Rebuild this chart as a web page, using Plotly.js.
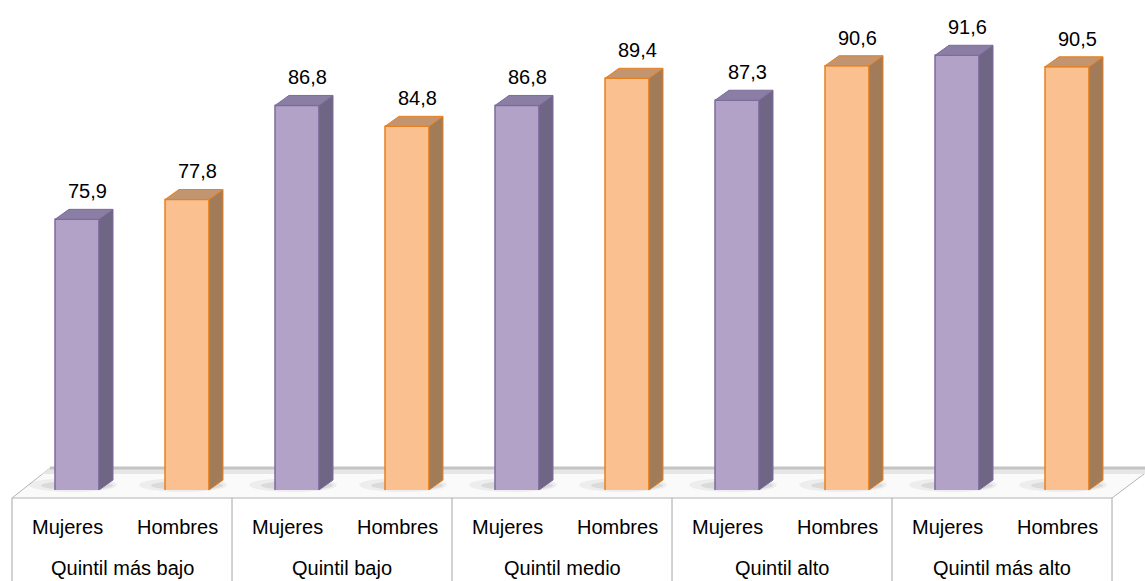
<!DOCTYPE html>
<html>
<head>
<meta charset="utf-8">
<script src="https://cdn.plot.ly/plotly-3.0.1.min.js"></script>
<style>html,body{margin:0;padding:0;background:#fff;}#chart{width:1145px;height:581px;}</style>
</head>
<body>
<div id="chart"></div>
<script>
// ---- data ----
var groups = ["Quintil más bajo", "Quintil bajo", "Quintil medio", "Quintil alto", "Quintil más alto"];
var sexes = ["Mujeres", "Hombres"];
var mujeres = [75.9, 86.8, 86.8, 87.3, 91.6];
var hombres = [77.8, 84.8, 89.4, 90.6, 90.5];

// ---- style ----
var FONT = '"Liberation Sans Narrow", "Arial Narrow", "Liberation Sans", Arial, sans-serif';
var FSIZE = 20;
var Y_MIN = 50, PLOT_H = 490, PX_PER_UNIT = 10.45;
var Y_MAX = Y_MIN + PLOT_H / PX_PER_UNIT;
var SLOT_PX = 110;
var FRONT_L = -12, FRONT_R = 32, DX = 14, DY = 10;
var styles = {
  Mujeres: {front: '#b3a2c7', line: '#7d6b9c', top: '#8b7ea4', side: '#6f6584'},
  Hombres: {front: '#fac090', line: '#e8801e', top: '#c29470', side: '#a27b58'}
};

// build flat series
var xs = [], vals = [], sx = [];
groups.forEach(function (g, gi) {
  [mujeres[gi], hombres[gi]].forEach(function (v, si) {
    xs.push(gi * 2 + si); vals.push(v); sx.push(sexes[si]);
  });
});

var traces = sexes.map(function (s) {
  var tx = [], ty = [];
  xs.forEach(function (x, i) { if (sx[i] === s) { tx.push(x); ty.push(vals[i]); } });
  return {
    type: 'bar', x: tx, y: ty, name: s,
    width: (FRONT_R - FRONT_L) / SLOT_PX, offset: FRONT_L / SLOT_PX,
    marker: {color: styles[s].front, line: {color: styles[s].line, width: 1.5}},
    hoverinfo: 'skip'
  };
});

var shapes = [];
// floor
shapes.push({type: 'path', xref: 'paper', yref: 'paper', xsizemode: 'pixel', ysizemode: 'pixel',
  xanchor: 0, yanchor: 0, path: 'M 0,-8 L 1100,-8 L 1140,22 L 38,22 Z',
  fillcolor: '#fafafa', line: {color: '#b4b4b4', width: 1}, layer: 'below'});
shapes.push({type: 'path', xref: 'paper', yref: 'paper', xsizemode: 'pixel', ysizemode: 'pixel',
  xanchor: 0, yanchor: 0, path: 'M 30,16 L 1133,16 L 1140,22 L 38,22 Z',
  fillcolor: '#e6e6e6', line: {width: 0}, layer: 'below'});
shapes.push({type: 'line', xref: 'paper', yref: 'paper', xsizemode: 'pixel', ysizemode: 'pixel',
  xanchor: 0, yanchor: 0, x0: 38, y0: 22, x1: 1140, y1: 22,
  line: {color: '#c4c4c4', width: 3}, layer: 'below'});
// shadows
xs.forEach(function (x) {
  shapes.push({type: 'circle', xref: 'x', yref: 'paper', xsizemode: 'pixel', ysizemode: 'pixel',
    xanchor: x, yanchor: 0, x0: -38, x1: 50, y0: -2, y1: 12,
    fillcolor: 'rgba(0,0,0,0.05)', line: {width: 0}, layer: 'below'});
  shapes.push({type: 'circle', xref: 'x', yref: 'paper', xsizemode: 'pixel', ysizemode: 'pixel',
    xanchor: x, yanchor: 0, x0: -26, x1: 46, y0: 0, y1: 9,
    fillcolor: 'rgba(0,0,0,0.08)', line: {width: 0}, layer: 'below'});
});
// table lines
for (var k = 0; k <= groups.length; k++) {
  shapes.push({type: 'line', xref: 'paper', yref: 'paper', xsizemode: 'pixel', ysizemode: 'pixel',
    xanchor: 0, yanchor: 0, x0: k * 220, x1: k * 220, y0: -8, y1: -100,
    line: {color: '#a6a6a6', width: 1}});
}
// 3D faces
var dYdata = DY / PX_PER_UNIT;
xs.forEach(function (x, i) {
  var st = styles[sx[i]], v = vals[i];
  shapes.push({type: 'path', xref: 'x', yref: 'y', xsizemode: 'pixel', xanchor: x,
    path: 'M ' + FRONT_R + ',' + Y_MIN + ' L ' + FRONT_R + ',' + v + ' L ' + (FRONT_R + DX) + ',' + (v + dYdata) +
      ' L ' + (FRONT_R + DX) + ',' + (Y_MIN + dYdata) + ' Z',
    fillcolor: st.side, line: {color: st.line, width: 1}, layer: 'above'});
  shapes.push({type: 'path', xref: 'x', yref: 'y', xsizemode: 'pixel', ysizemode: 'pixel',
    xanchor: x, yanchor: v,
    path: 'M ' + FRONT_L + ',0 L ' + FRONT_R + ',0 L ' + (FRONT_R + DX) + ',' + DY + ' L ' + (FRONT_L + DX) + ',' + DY + ' Z',
    fillcolor: st.top, line: {color: st.line, width: 1}, layer: 'above'});
});

var annotations = [];
// value labels
xs.forEach(function (x, i) {
  annotations.push({x: x, y: vals[i], xref: 'x', yref: 'y', text: vals[i].toFixed(1).replace('.', ','),
    showarrow: false, xanchor: 'center', yanchor: 'middle', xshift: 20, yshift: 28,
    font: {family: FONT, size: FSIZE, color: '#000'}});
});
// category labels
xs.forEach(function (x, i) {
  annotations.push({x: x, y: 0, xref: 'x', yref: 'paper', text: sx[i], showarrow: false,
    xanchor: 'center', yanchor: 'middle', yshift: -37, font: {family: FONT, size: FSIZE, color: '#000'}});
});
groups.forEach(function (g, gi) {
  annotations.push({x: gi * 2 + 0.5, y: 0, xref: 'x', yref: 'paper', text: g, showarrow: false,
    xanchor: 'center', yanchor: 'middle', yshift: -78, font: {family: FONT, size: FSIZE, color: '#000'}});
});

var layout = {
  width: 1145, height: 581,
  margin: {l: 12, r: 33, t: 0, b: 91, pad: 0},
  paper_bgcolor: '#ffffff', plot_bgcolor: 'rgba(0,0,0,0)',
  showlegend: false, barmode: 'overlay',
  xaxis: {range: [-0.5, 9.5], visible: false, fixedrange: true},
  yaxis: {range: [Y_MIN, Y_MAX], visible: false, fixedrange: true},
  shapes: shapes, annotations: annotations
};

Plotly.newPlot('chart', traces, layout, {displayModeBar: false, staticPlot: true});
</script>
</body>
</html>
